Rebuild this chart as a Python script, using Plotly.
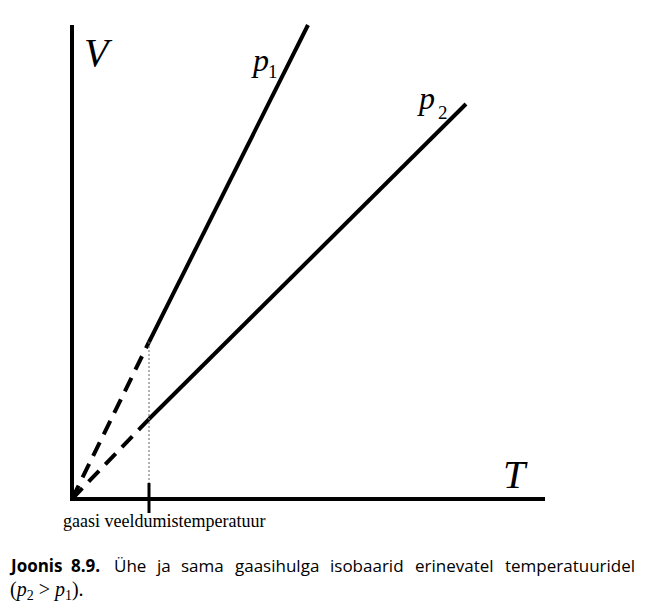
import plotly.graph_objects as go

# ---- data (chart units: T to the right, V upward, origin at 0 K / 0 volume) ----
T_liquefaction = 77          # gaasi veeldumistemperatuur
p1_T = [0, 77, 236]
p1_V = [0, 157, 474]
p2_T = [0, 77, 394]
p2_V = [0, 80, 395]
T_axis_max = 473
V_axis_max = 474

caption_words = ["Joonis", "8.9.", "Ühe", "ja", "sama", "gaasihulga",
                 "isobaarid", "erinevatel", "temperatuuridel"]
caption_centers = [36, 86, 130, 163.5, 202, 276.5, 366.5, 454, 569.5]

W, H = 652, 604
OX, OY = 72, 499   # pixel position of origin

fig = go.Figure()

# dashed extrapolated parts
fig.add_trace(go.Scatter(x=p1_T[:2], y=p1_V[:2], mode="lines",
                         line=dict(color="black", width=4, dash="15px,9px"),
                         hoverinfo="skip", showlegend=False))
fig.add_trace(go.Scatter(x=p2_T[:2], y=p2_V[:2], mode="lines",
                         line=dict(color="black", width=4, dash="15px,9px"),
                         hoverinfo="skip", showlegend=False))
# solid parts
fig.add_trace(go.Scatter(x=p1_T[1:], y=p1_V[1:], mode="lines",
                         line=dict(color="black", width=4),
                         hoverinfo="skip", showlegend=False))
fig.add_trace(go.Scatter(x=p2_T[1:], y=p2_V[1:], mode="lines",
                         line=dict(color="black", width=4),
                         hoverinfo="skip", showlegend=False))

shapes = [
    # axes
    dict(type="line", xref="x", yref="y", x0=0, y0=-2, x1=0, y1=V_axis_max,
         line=dict(color="black", width=4)),
    dict(type="line", xref="x", yref="y", x0=-2, y0=0, x1=T_axis_max, y1=0,
         line=dict(color="black", width=4)),
    # dotted guide
    dict(type="line", xref="x", yref="y", x0=T_liquefaction, y0=p1_V[1],
         x1=T_liquefaction, y1=16,
         line=dict(color="#666666", width=1, dash="2px,2px")),
    # tick
    dict(type="line", xref="x", yref="y", x0=T_liquefaction, y0=16,
         x1=T_liquefaction, y1=-14, line=dict(color="black", width=3)),
]


def px(x):
    return x / W


def py(y):
    return 1 - y / H


annotations = []


def add_text(text, x, y, size, family, xanchor="center", italic=False, bold=False):
    t = text
    if italic:
        t = "<i>" + t + "</i>"
    if bold:
        t = "<b>" + t + "</b>"
    annotations.append(dict(text=t, x=px(x), y=py(y), xref="paper", yref="paper",
                            xanchor=xanchor, yanchor="middle", showarrow=False,
                            font=dict(size=size, family=family, color="black")))


serif = "Liberation Serif"
add_text("V", 98, 52, 40, serif, italic=True)
add_text("T", 515, 474, 40, serif, italic=True)
add_text("p", 260, 60, 32, serif, italic=True)
add_text("1", 273, 72, 19, serif)
add_text("p", 426, 98, 32, serif, italic=True)
add_text("2", 443, 112, 19, serif)
add_text("gaasi veeldumistemperatuur", 164, 521, 18, serif)

sans = "Open Sans"
for i, (w, c) in enumerate(zip(caption_words, caption_centers)):
    add_text(w, c, 565, 17, sans, bold=(i < 2))

annotations.append(dict(
    text="(<i>p</i><sub>2</sub> > <i>p</i><sub>1</sub>).",
    x=px(8), y=py(590), xref="paper", yref="paper", xanchor="left",
    yanchor="middle", showarrow=False,
    font=dict(size=20, family=serif, color="black")))

fig.update_layout(
    width=W, height=H,
    margin=dict(l=0, r=0, t=0, b=0),
    paper_bgcolor="white", plot_bgcolor="white",
    xaxis=dict(range=[-OX, W - OX], visible=False, fixedrange=True),
    yaxis=dict(range=[OY - H, OY], visible=False, fixedrange=True),
    shapes=shapes, annotations=annotations,
    showlegend=False,
)

fig.write_html("out.html", config={"displayModeBar": False})
